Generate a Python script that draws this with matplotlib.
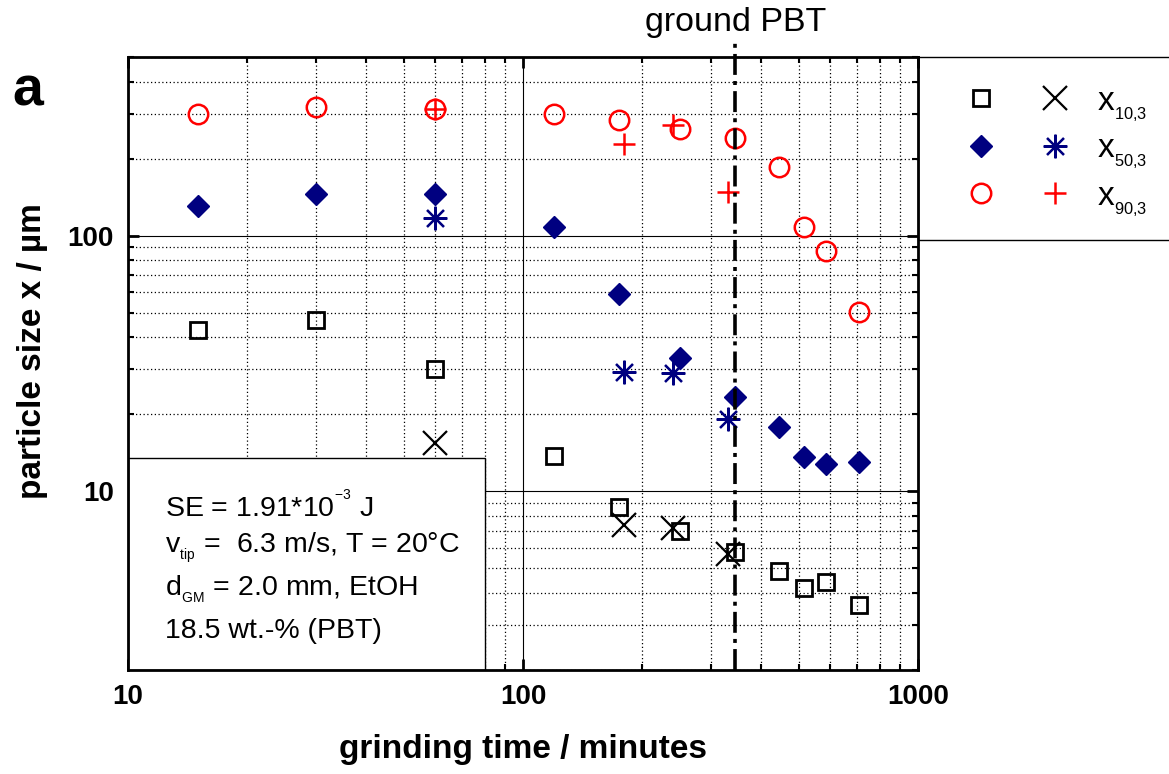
import matplotlib
matplotlib.use('Agg')
import matplotlib.pyplot as plt
from matplotlib.patches import Rectangle
from matplotlib.legend_handler import HandlerTuple
from matplotlib.ticker import LogLocator, NullFormatter, FixedFormatter, FixedLocator

plt.rcParams['font.family'] = ['Liberation Sans', 'DejaVu Sans']
plt.rcParams['mathtext.default'] = 'regular'

# grinding times (minutes) and particle sizes (um)
t_main = [15, 30, 60, 120, 175, 250, 345, 445, 515, 585, 711]
x10_main = [42.7, 46.7, 30, 13.8, 8.7, 7.0, 5.8, 4.9, 4.2, 4.4, 3.6]
x50_main = [131, 145, 145, 108.6, 59, 33.2, 23.4, 17.9, 13.6, 12.8, 13.0]
x90_main = [300, 320, 312, 300, 284, 262, 240, 186, 108, 87.5, 50.3]

t_second = [60, 180, 240, 330]
x10_second = [15.5, 7.4, 7.2, 5.7]
x50_second = [117.4, 29.3, 29.0, 19.2]
x90_second = [312, 229, 270, 148]

ground_time = 345
x_ticks = [10, 100, 1000]
x_ticklabels = ['10', '100', '1000']
y_ticks = [10, 100]
y_ticklabels = ['10', '100']
legend_labels = ['$x_{{}_{10{,}3}}$', '$x_{{}_{50{,}3}}$', '$x_{{}_{90{,}3}}$']
info_lines = ['SE = 1.91*10$^{{}^{-3}}$ J',
              'v$_{{}_{tip}}$ =  6.3 m/s, T = 20°C',
              'd$_{{}_{GM}}$ = 2.0 mm, EtOH',
              '18.5 wt.-% (PBT)']

W, H = 1169, 774
fig = plt.figure(figsize=(W / 100, H / 100), dpi=100)
ax = fig.add_axes([128 / W, 1 - 670 / H, 790 / W, 613 / H])
ax.set_xscale('log')
ax.set_yscale('log')
ax.set_xlim(10, 1000)
ax.set_ylim(2, 500)

navy = '#000080'
red = '#ff0000'
sq, = ax.plot(t_main, x10_main, ls='none', marker='s', ms=12, mfc='none', mec='black', mew=2)
dia, = ax.plot(t_main, x50_main, ls='none', marker='D', ms=11, mfc=navy, mec=navy)
circ, = ax.plot(t_main, x90_main, ls='none', marker='o', ms=14, mfc='none', mec=red, mew=1.8)
xm, = ax.plot(t_second, x10_second, ls='none', marker='x', ms=17, mec='black', mew=1.6)
ast, = ax.plot(t_second, x50_second, ls='none', marker=(8, 2, 0), ms=17, mec=navy, mew=1.6)
plus, = ax.plot(t_second, x90_second, ls='none', marker='+', ms=16, mec=red, mew=1.8)

ax.axvline(ground_time, ymin=0, ymax=1.028, color='black', lw=2.6,
           ls=(0, (5.8, 1.7, 1.1, 1.7)), clip_on=False, zorder=4)
ax.text(ground_time, 1.057, 'ground PBT', transform=ax.get_xaxis_transform(),
        ha='center', va='center', fontsize=24.5)

# grid
ax.set_axisbelow(True)
ax.grid(True, which='major', color='black', lw=0.8, ls='-')
ax.grid(True, which='minor', color='black', lw=0.9, ls=(0, (1, 2)))

ax.xaxis.set_major_locator(FixedLocator(x_ticks))
ax.xaxis.set_major_formatter(FixedFormatter(x_ticklabels))
ax.yaxis.set_major_locator(FixedLocator(y_ticks))
ax.yaxis.set_major_formatter(FixedFormatter(y_ticklabels))
ax.xaxis.set_minor_locator(LogLocator(base=10, subs=range(2, 10)))
ax.yaxis.set_minor_locator(LogLocator(base=10, subs=range(2, 10)))
ax.xaxis.set_minor_formatter(NullFormatter())
ax.yaxis.set_minor_formatter(NullFormatter())
ax.tick_params(which='both', direction='in', top=True, right=True)
ax.tick_params(which='major', length=8, width=2, labelsize=20, pad=10)
ax.tick_params(which='minor', length=4, width=1.5)
for lab in ax.get_xticklabels() + ax.get_yticklabels():
    lab.set_fontweight('bold')
for sp in ax.spines.values():
    sp.set_linewidth(2)
    sp.set_zorder(5)

ax.set_xlabel('grinding time / minutes', fontsize=24, fontweight='bold')
ax.set_ylabel('particle size x / µm', fontsize=24, fontweight='bold')
ax.xaxis.set_label_coords(0.5, -0.105)
ax.yaxis.set_label_coords(-0.101, 0.52)

# info box
ax.add_patch(Rectangle((0, 0), 0.452, 0.346, transform=ax.transAxes,
                       fc='white', ec='black', lw=1, zorder=3))
for line, base in zip(info_lines, [517, 552, 595, 638]):
    fig.text(165 / W, 1 - base / H, line, fontsize=20.5, va='baseline', zorder=6)

# legend box
fig.add_artist(Rectangle((918 / W, 1 - 240 / H), 0.25, 183 / H, transform=fig.transFigure,
                         fc='white', ec='black', lw=1, zorder=-1))
ax.legend(handles=[(sq, xm), (dia, ast), (circ, plus)], labels=legend_labels,
          handler_map={tuple: HandlerTuple(ndivide=None, pad=0.3)},
          loc='upper left', bbox_to_anchor=(949 / W, 1 - 86 / H), bbox_transform=fig.transFigure,
          frameon=False, fontsize=24, handlelength=4.14, handletextpad=0.3,
          borderpad=0, borderaxespad=0, labelspacing=0.3)

fig.text(12 / W, 1 - 105 / H, 'a', fontsize=40, fontweight='bold', va='baseline')

fig.savefig('out.png', dpi=100)
